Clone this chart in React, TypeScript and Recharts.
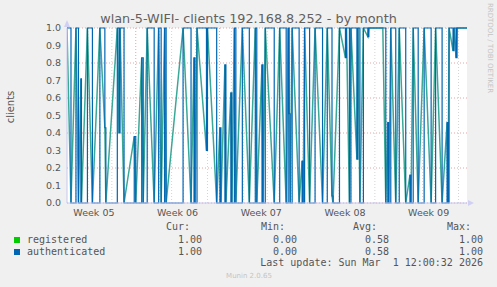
import React from "react";
import {
  LineChart,
  Line,
  XAxis,
  YAxis,
  CartesianGrid,
  ReferenceLine,
} from "recharts";

// hours since Mon 26 Jan 00:00 (start of week 05)
const hours = [
  30, 38, 48, 53, 58, 59, 71, 81, 96, 106, 108, 131, 134.5, 136.5, 144.5,
  165, 168, 180, 183, 191, 205, 214, 219, 226, 229, 263, 279, 285, 287, 291,
  310, 312, 330.5, 337, 339, 347, 349, 359, 361, 366, 369, 382, 396, 408, 411,
  421.5, 423.5, 428, 446, 457, 470, 474, 476, 478, 482, 496, 502, 504, 507, 517,
  528, 543, 552.5, 562, 564, 577, 589, 591, 597, 600, 612, 614, 618, 625, 634,
  636, 664, 670, 674, 676, 680, 690, 697, 710, 718.5, 720.5, 725, 735, 747, 761,
  770, 783, 793, 795, 797, 805, 807, 811, 813, 833,
];

const authenticated = [
  1, 0, 1, 0, 0.71, 0, 1, 0, 1, 0.43, 0, 1, 0.4, 1, 0,
  0.38, 0, 0.83, 0, 1, 0, 1, 0, 1, 0, 1, 0, 0.83, 0, 1,
  0.3, 1, 0, 0.43, 0, 0.79, 0, 0.63, 0, 1, 0, 1, 0, 1, 0,
  0.79, 0, 1, 0, 1, 0, 1, 0.51, 0, 1, 0, 0.24, 0, 1, 0,
  1, 0, 1, 0.04, 0, 1, 0.83, 1, 0, 1, 0.25, 1, 0, 1, 0.95,
  1, 1, 0, 0.46, 0, 1, 0, 1, 0, 0.16, 0, 1, 0, 1, 0,
  1, 0, 0.46, 0, 1, 0.87, 1, 0.83, 1, 1,
];

// same readings (legend stats are identical), drawn as the sloped line
const registered = [
  1, 0, 1, 0, 0.71, 0, 1, 0, 1, 0.43, 0, 1, 0.4, 1, 0,
  0.38, 0, 0.83, 0, 1, 0, 1, 0, 1, 0, 1, 0, 0.83, 0, 1,
  0.3, 1, 0, 0.43, 0, 0.79, 0, 0.63, 0, 1, 0, 1, 0, 1, 0,
  0.79, 0, 1, 0, 1, 0, 1, 0.51, 0, 1, 0, 0.24, 0, 1, 0,
  1, 0, 1, 0.04, 0, 1, 0.83, 1, 0, 1, 0.25, 1, 0, 1, 0.95,
  1, 1, 0, 0.46, 0, 1, 0, 1, 0, 0.16, 0, 1, 0, 1, 0,
  1, 0, 0.46, 0, 1, 0.87, 1, 0.83, 1, 1,
];

const weekTicks = [84, 252, 420, 588, 756];
const weekLabels = ["Week 05", "Week 06", "Week 07", "Week 08", "Week 09"];
const weekLines = [168, 336, 504, 672];
const dayLines = [
  48, 72, 96, 120, 144, 192, 216, 240, 264, 288, 312, 360, 384, 408, 432, 456,
  480, 528, 552, 576, 600, 624, 648, 696, 720, 744, 768, 792, 816,
];
const yTicks = [0, 0.1, 0.2, 0.3, 0.4, 0.5, 0.6, 0.7, 0.8, 0.9, 1.0];

const statHeads = ["Cur:", "Min:", "Avg:", "Max:"];
const registeredStats = ["1.00", "0.00", "0.58", "1.00"];
const authenticatedStats = ["1.00", "0.00", "0.58", "1.00"];
const statRight = [202, 297, 389, 483];

const data = hours.map((t, i) => ({
  t,
  registered: registered[i],
  authenticated: authenticated[i],
}));

const mono: React.CSSProperties = {
  position: "absolute",
  fontFamily: "'DejaVu Sans Mono', monospace",
  fontSize: 10,
  lineHeight: "12px",
  color: "#555",
  whiteSpace: "pre",
};

const rightText = (text: string, right: number, top: number, key?: string) => (
  <div key={key} style={{ ...mono, right: 497 - right, top }}>
    {text}
  </div>
);

export default function App() {
  return (
    <div
      style={{
        position: "absolute",
        left: 0,
        top: 0,
        width: 497,
        height: 287,
        background: "#f0f0f0",
        overflow: "hidden",
        fontFamily: "'DejaVu Sans', sans-serif",
      }}
    >
      <div
        style={{
          position: "absolute",
          left: 0,
          width: 497,
          top: 11,
          textAlign: "center",
          fontSize: 12.8,
          color: "#606060",
        }}
      >
        wlan-5-WIFI- clients 192.168.8.252 - by month
      </div>
      <div
        style={{
          position: "absolute",
          left: 10,
          top: 107,
          fontSize: 10,
          color: "#555",
          transform: "translate(-50%, -50%) rotate(-90deg)",
          whiteSpace: "nowrap",
        }}
      >
        clients
      </div>
      <div
        style={{
          position: "absolute",
          left: 490,
          top: 48,
          fontSize: 7,
          color: "#c4c4c4",
          transform: "translate(-50%, -50%) rotate(90deg)",
          whiteSpace: "nowrap",
        }}
      >
        RRDTOOL / TOBI OETIKER
      </div>

      <div style={{ position: "absolute", left: 0, top: 0 }}>
        <LineChart
          width={497}
          height={287}
          data={data}
          margin={{ top: 28, right: 30, bottom: 64, left: 0 }}
        >
          <CartesianGrid
            horizontal={true}
            vertical={false}
            fill="#fff"
            stroke="#e4a4a4"
            strokeDasharray="1 2"
          />
          {dayLines.map((h) => (
            <ReferenceLine
              key={"d" + h}
              x={h}
              stroke="#d4d4d4"
              strokeDasharray="1 2"
            />
          ))}
          {weekLines.map((h) => (
            <ReferenceLine
              key={"w" + h}
              x={h}
              stroke="#e4a4a4"
              strokeDasharray="1 2"
            />
          ))}
          <XAxis
            dataKey="t"
            type="number"
            domain={[30, 833]}
            ticks={weekTicks}
            allowDataOverflow
            height={20}
            tickLine={false}
            tickSize={4}
            tickMargin={2}
            axisLine={{ stroke: "#c8c8f0" }}
            tick={{ fontSize: 9.5, fill: "#555", fontFamily: "DejaVu Sans" }}
            tickFormatter={(v) => weekLabels[weekTicks.indexOf(v)]}
          />
          <YAxis
            domain={[0, 1]}
            ticks={yTicks}
            width={67}
            tickLine={false}
            tickSize={4}
            tickMargin={2}
            axisLine={{ stroke: "#c8c8f0" }}
            tick={{ fontSize: 9.5, fill: "#555", fontFamily: "DejaVu Sans" }}
            tickFormatter={(v) => Number(v).toFixed(1)}
          />
          <Line
            type="linear"
            dataKey="registered"
            stroke="#3aa896"
            strokeWidth={1.5}
            dot={false}
            isAnimationActive={false}
          />
          <Line
            type="stepAfter"
            dataKey="authenticated"
            stroke="#0066b3"
            strokeWidth={1.2}
            dot={false}
            isAnimationActive={false}
          />
        </LineChart>
      </div>

      <svg
        width={497}
        height={287}
        style={{ position: "absolute", left: 0, top: 0, pointerEvents: "none" }}
      >
        <polygon points="64,27 70,27 67,20" fill="#d0d0f4" />
        <polygon points="468,200 468,206 474,203" fill="#d0d0f4" />
      </svg>

      {statHeads.map((h, i) => rightText(h, statRight[i] - 12, 221, "h" + i))}
      <div style={{ position: "absolute", left: 14, top: 237, width: 6, height: 6, background: "#00cc00" }} />
      <div style={{ ...mono, left: 27, top: 234 }}>registered</div>
      {registeredStats.map((s, i) => rightText(s, statRight[i], 234, "r" + i))}
      <div style={{ position: "absolute", left: 14, top: 249, width: 6, height: 6, background: "#0066b3" }} />
      <div style={{ ...mono, left: 27, top: 246 }}>authenticated</div>
      {authenticatedStats.map((s, i) => rightText(s, statRight[i], 246, "a" + i))}
      {rightText("Last update: Sun Mar  1 12:00:32 2026", 483, 257)}
      <div
        style={{
          position: "absolute",
          left: 249,
          top: 276,
          transform: "translate(-50%, -50%)",
          fontSize: 7,
          color: "#c4c4c4",
          whiteSpace: "nowrap",
        }}
      >
        Munin 2.0.65
      </div>
    </div>
  );
}
